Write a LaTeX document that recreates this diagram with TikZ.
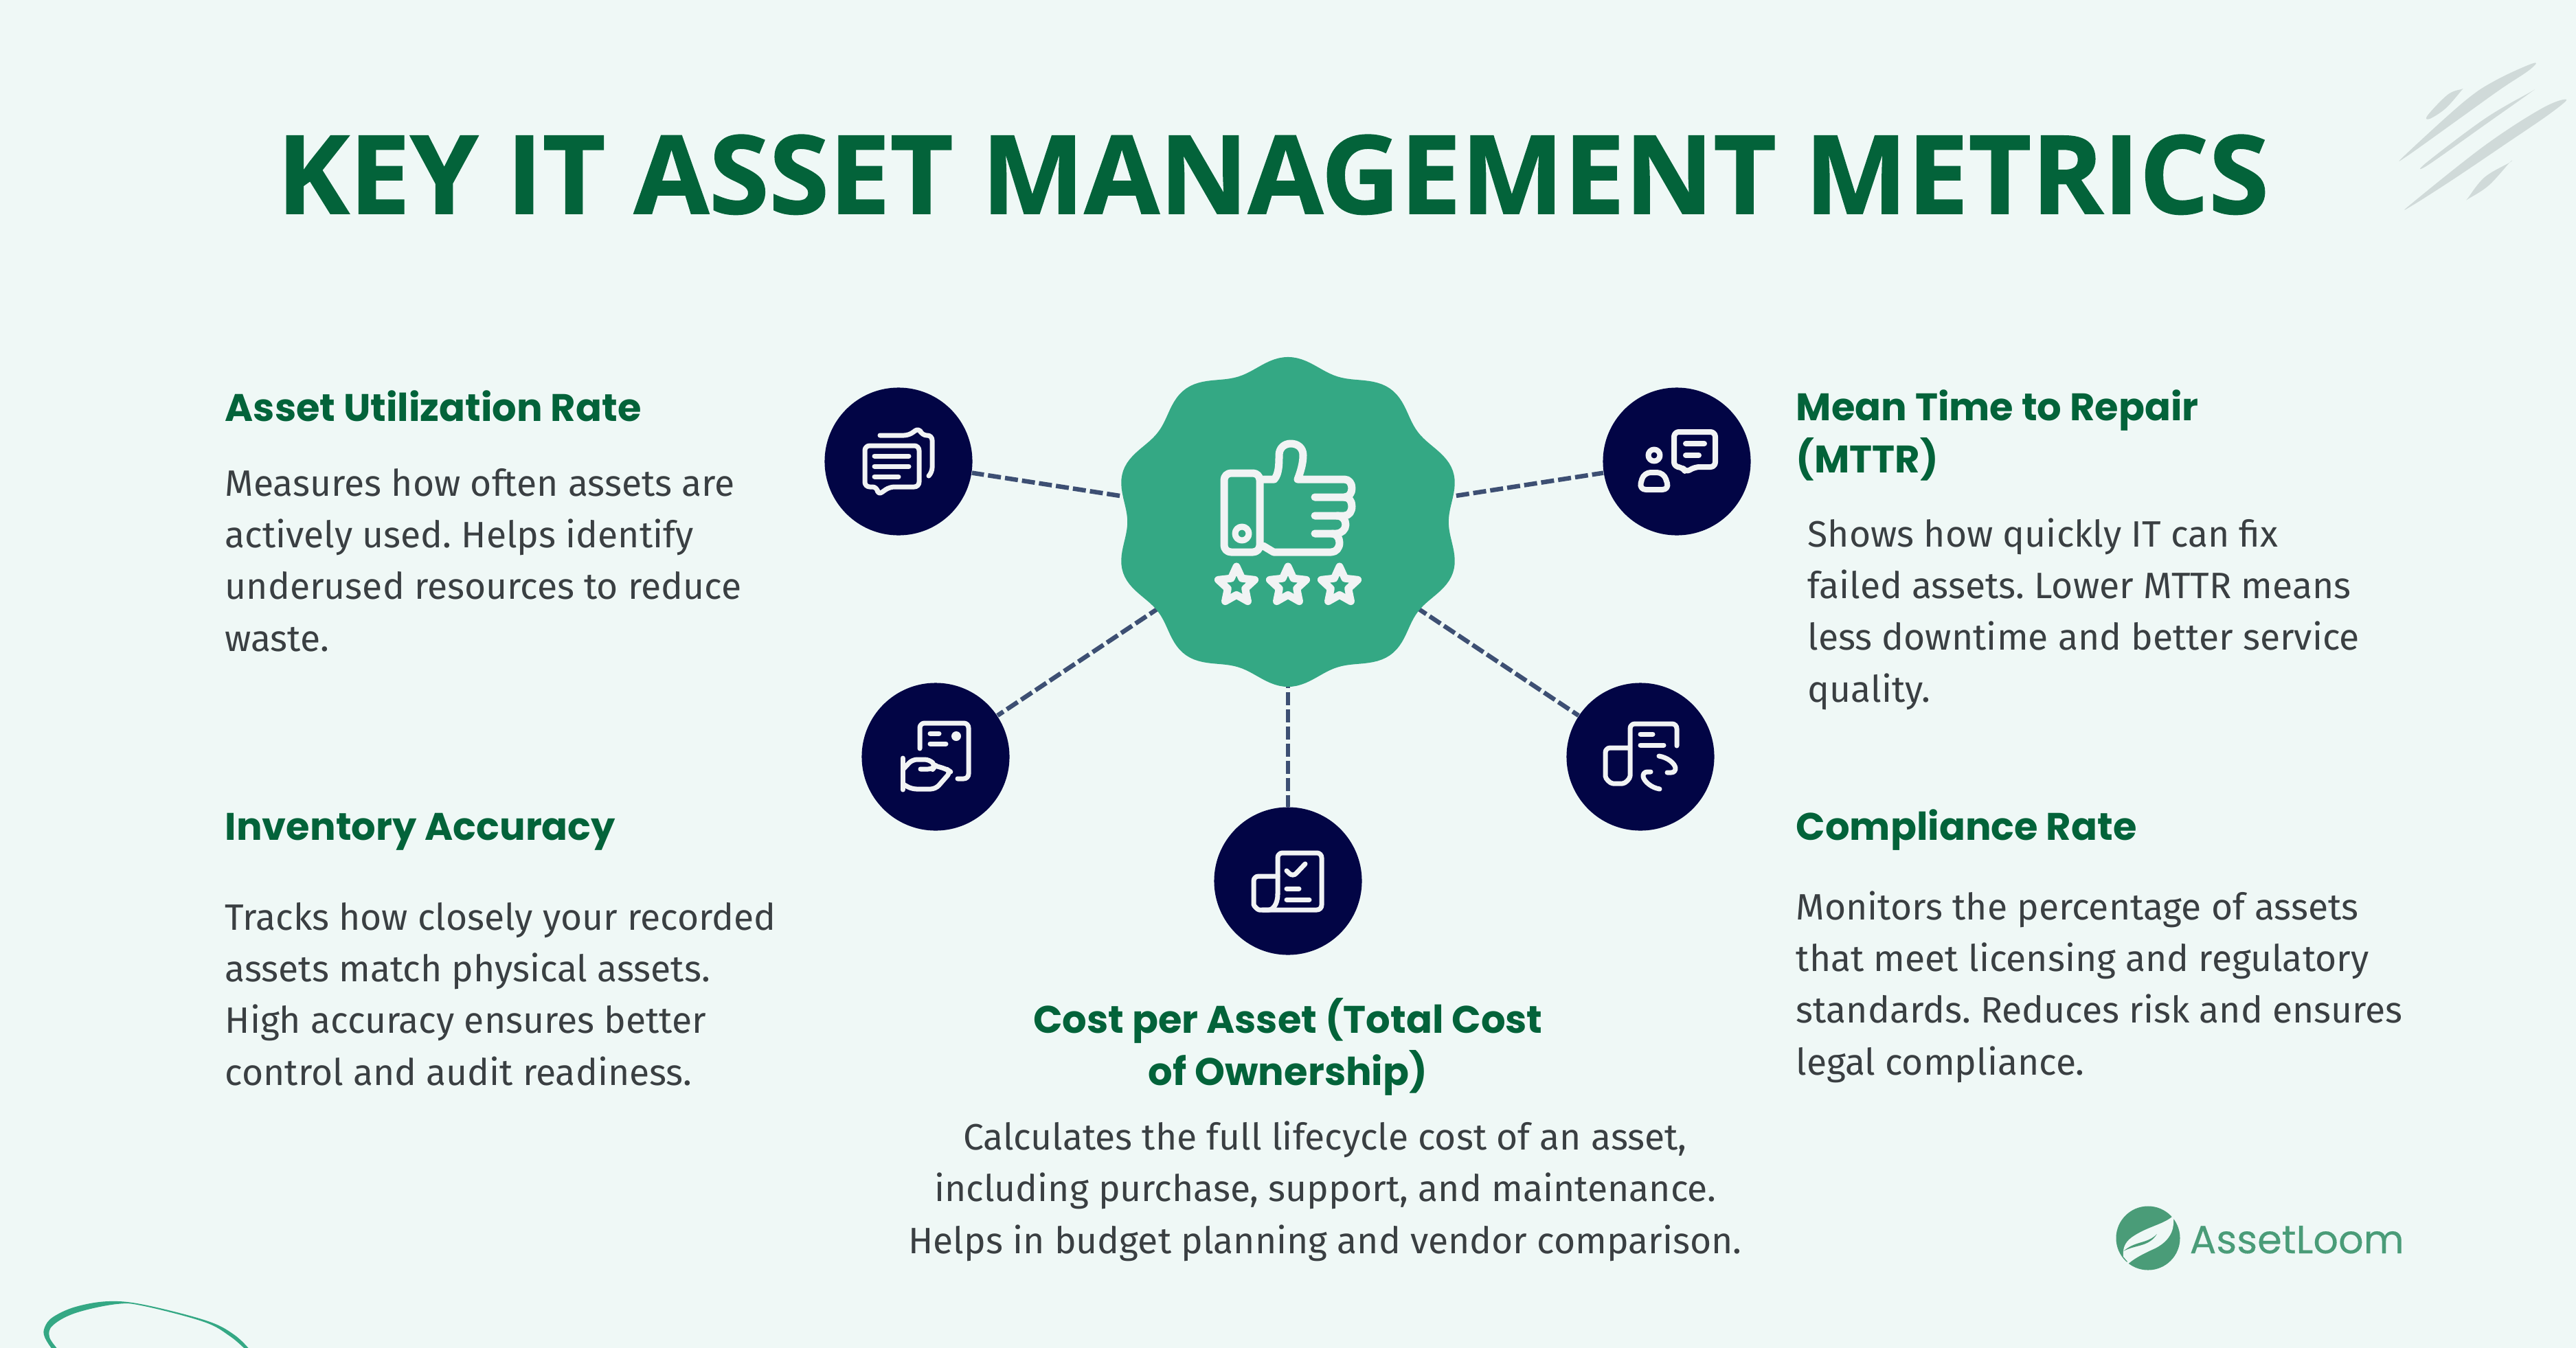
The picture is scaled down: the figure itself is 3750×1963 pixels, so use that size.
\documentclass[tikz,border=0pt]{standalone}
\usepackage{fontspec}
\usepackage{tikz}
\usetikzlibrary{shapes.geometric}
\newfontfamily\titlefam{Open Sans}[BoldFeatures = {FakeBold = 1}]
\newfontfamily\headfam{Poppins}
\newfontfamily\logofam{Poppins}[FakeBold = 0.25]
\newfontfamily\bodyfam{Fira Sans}
\definecolor{pagebg}{HTML}{EFF8F6}
\definecolor{deepgreen}{HTML}{03633A}
\definecolor{hubgreen}{HTML}{34A884}
\definecolor{navyfill}{HTML}{020545}
\definecolor{linkblue}{HTML}{3D4F73}
\definecolor{iconwhite}{HTML}{F1F3F4}
\definecolor{bodygray}{HTML}{3A3F42}
\definecolor{logogreen}{HTML}{4A9C78}
\definecolor{scribblegray}{HTML}{D0DAD9}
\tikzset{
	titletext/.style = {anchor = base, inner sep = 0, text = deepgreen, font = \titlefam\bfseries\fontsize{45.1}{54}\selectfont},
	headtext/.style = {anchor = base west, inner sep = 0, text = deepgreen, align = left, font = \headfam\bfseries\fontsize{15.9}{21.34}\selectfont},
	bodytext/.style = {anchor = base west, inner sep = 0, text = bodygray, align = left, font = \bodyfam\fontsize{15.2}{21.34}\selectfont},
	metric/.style = {circle, fill = navyfill, minimum size = 2.15cm, inner sep = 0},
	hubnode/.style = {circle, minimum size = 4.44cm, inner sep = 0},
	link/.style = {draw = linkblue, line width = 0.065cm, dash pattern = on 0.19cm off 0.06cm},
	iconline/.style = {draw = iconwhite, line width = 0.07cm, line cap = round, line join = round, rounded corners = 0.07cm},
	thumbline/.style = {draw = iconwhite, line width = 0.11cm, line cap = round, line join = round},
	ratestar/.style = {star, star points = 5, star point ratio = 2.1, minimum size = 0.56cm, inner sep = 0, draw = iconwhite, line width = 0.11cm, line join = round},
	scribble/.style = {fill = scribblegray}
}
\begin{document}
\frenchspacing
\begin{tikzpicture}[x = 0.01cm, y = -0.01cm]
	\useasboundingbox (0, 0) rectangle (3750, 1963);
	\clip (0, 0) rectangle (3750, 1963);
	\fill[pagebg] (0, 0) rectangle (3750, 1963);

	\node[titletext] (title) at (1853, 311) {KEY IT ASSET MANAGEMENT METRICS};

	% corner marks
	\fill[scribble] plot[smooth cycle, tension = 0.6] coordinates {(3688, 92) (3633, 117) (3587, 148) (3502, 225) (3503, 228) (3580, 173) (3640, 130) (3682, 102)};
	\fill[scribble] plot[smooth cycle, tension = 0.6] coordinates {(3583, 130) (3563, 138) (3534, 168) (3537, 173) (3560, 158) (3583, 132)};
	\fill[scribble] plot[smooth cycle, tension = 0.6] coordinates {(3682, 135) (3617, 173) (3532, 237) (3535, 240) (3617, 182) (3682, 136)};
	\fill[scribble] plot[smooth cycle, tension = 0.6] coordinates {(3736, 145) (3700, 158) (3617, 212) (3510, 297) (3512, 299) (3573, 260) (3647, 210) (3710, 167)};
	\fill[scribble] plot[smooth cycle, tension = 0.6] coordinates {(3653, 237) (3617, 258) (3593, 288) (3594, 289) (3623, 270) (3653, 237)};
	\fill[hubgreen] plot[smooth cycle, tension = 0.6] coordinates {(78, 1967) (65, 1947) (65, 1933) (77, 1918) (110, 1903) (158, 1895) (210, 1900) (300, 1923) (340, 1943) (365, 1967) (360, 1967) (335, 1946) (297, 1925) (210, 1902) (170, 1899) (110, 1912) (77, 1930) (72, 1947) (85, 1967)};

	% hub and metric circles
	\node[hubnode] (hub) at (1875, 760) {};
	\node[metric] (utilization) at (1308, 672) {};
	\node[metric] (inventory) at (1362, 1102) {};
	\node[metric] (cost) at (1875, 1283) {};
	\node[metric] (compliance) at (2388, 1102) {};
	\node[metric] (repair) at (2441, 672) {};

	\draw[link] (hub) -- (utilization);
	\draw[link] (hub) -- (inventory);
	\draw[link] (hub) -- (cost);
	\draw[link] (hub) -- (compliance);
	\draw[link] (hub) -- (repair);

	\fill[hubgreen] plot[domain = 0:360, samples = 241] ({1875 + 1.03 * (236 + 9 * cos(10 * \x)) * sin(\x)}, {760 + 0.98 * (236 + 9 * cos(10 * \x)) * cos(\x)}) -- cycle;

	% thumb icon
	\draw[thumbline, rounded corners = 0.1cm] (1782, 689) rectangle (1834, 804);
	\draw[thumbline, line width = 0.09cm] (1808, 777) circle [radius = 0.1cm];
	\draw[thumbline] (1839, 698) -- (1855, 698) .. controls (1862, 690) and (1862, 675) .. (1862, 663) .. controls (1862, 652) and (1870, 646) .. (1879, 646) .. controls (1889, 646) and (1897, 652) .. (1897, 663) .. controls (1897, 675) and (1893, 688) .. (1889, 698) -- (1957, 698) .. controls (1964, 698) and (1968, 704) .. (1968, 711) .. controls (1968, 718) and (1964, 724) .. (1957, 724) -- (1914, 724);
	\draw[thumbline] (1957, 724) .. controls (1964, 724) and (1968, 730) .. (1968, 737) .. controls (1968, 745) and (1964, 751) .. (1957, 751) -- (1914, 751);
	\draw[thumbline] (1946, 751) .. controls (1954, 751) and (1959, 757) .. (1959, 764) .. controls (1959, 771) and (1953, 777) .. (1945, 777) -- (1914, 777);
	\draw[thumbline] (1939, 777) .. controls (1945, 777) and (1950, 783) .. (1950, 790) .. controls (1950, 798) and (1945, 804) .. (1938, 804) -- (1854, 804) -- (1839, 795);
	\foreach \sx/\sn in {1800/a, 1875/b, 1950/c}
		\node[ratestar] (star\sn) at (\sx, 853) {};

	% utilization icon
	\draw[iconline] (1259, 649) -- (1338, 649) -- (1338, 709) -- (1295, 709) -- (1278, 721) -- (1277, 709) -- (1259, 709) -- cycle;
	\draw[iconline] (1273, 664) -- (1323, 664) (1273, 679) -- (1323, 679) (1273, 694) -- (1308, 694);
	\draw[iconline] (1281, 634) -- (1323, 634) -- (1338, 623) -- (1342, 634) -- (1357, 634) -- (1357, 688) -- (1352, 693);

	% inventory icon
	\draw[iconline] (1339, 1090) -- (1339, 1053) -- (1410, 1053) -- (1410, 1134) -- (1394, 1134);
	\fill[iconwhite] (1392, 1072) circle [radius = 0.07cm];
	\draw[iconline] (1354, 1068) -- (1367, 1068) (1354, 1083) -- (1377, 1083) (1314, 1104) -- (1314, 1150);
	\draw[iconline] (1315, 1120) -- (1328, 1106) -- (1353, 1106) -- (1362, 1115) -- (1358, 1120) -- (1340, 1120);
	\draw[iconline] (1361, 1115) -- (1378, 1120) -- (1384, 1124) -- (1362, 1149) -- (1327, 1149) -- (1315, 1142);

	% cost icon
	\draw[iconline] (1860, 1302) -- (1860, 1242) -- (1924, 1242) -- (1924, 1325) -- (1838, 1325);
	\draw[iconline] (1860, 1276) -- (1825, 1276) -- (1825, 1310) .. controls (1825, 1319) and (1831, 1325) .. (1840, 1325) .. controls (1852, 1325) and (1860, 1318) .. (1860, 1302);
	\draw[iconline] (1873, 1268) -- (1882, 1277) -- (1900, 1258);
	\draw[iconline] (1873, 1294) -- (1891, 1294) (1873, 1310) -- (1906, 1310);

	% compliance icon
	\draw[iconline] (2373, 1089) -- (2337, 1089) -- (2337, 1123) .. controls (2337, 1134) and (2344, 1141) .. (2355, 1141) .. controls (2366, 1141) and (2373, 1134) .. (2373, 1123) -- (2373, 1054) -- (2441, 1054) -- (2441, 1086);
	\draw[iconline] (2388, 1069) -- (2406, 1069) (2388, 1085) -- (2422, 1085);
	\draw[iconline] (2415, 1101) .. controls (2428, 1103) and (2438, 1112) .. (2440, 1125) -- (2427, 1125);
	\draw[iconline] (2403, 1124) -- (2391, 1124) .. controls (2393, 1137) and (2403, 1147) .. (2416, 1149);

	% repair icon
	\draw[iconline, line width = 0.08cm] (2408, 663) circle [radius = 0.085cm];
	\draw[iconline, line width = 0.08cm, rounded corners = 0.1cm] (2393, 688) -- (2422, 688) -- (2430, 713) -- (2386, 713) -- cycle;
	\draw[iconline, line width = 0.08cm] (2437, 629) -- (2497, 629) -- (2497, 680) -- (2467, 680) -- (2454, 688) -- (2449, 680) -- (2437, 680) -- cycle;
	\draw[iconline, line width = 0.08cm] (2454, 646) -- (2481, 646) (2454, 663) -- (2473, 663);

	% left column (a node's base is its last line)
	\node[headtext] (utilhead) at (327, 613) {Asset Utilization Rate};
	\node[bodytext] (utilbody) at (327, 948) {Measures how often assets are\\actively used. Helps identify\\underused resources to reduce\\waste.};
	\node[headtext] (invhead) at (327, 1223) {Inventory Accuracy};
	\node[bodytext] (invbody) at (327, 1580) {Tracks how closely your recorded\\assets match physical assets.\\High accuracy ensures better\\control and audit readiness.};

	% bottom centre
	\node[headtext, anchor = base, align = center] (costhead) at (1875, 1580) {Cost per Asset (Total Cost\\of Ownership)};
	\node[bodytext, anchor = base, align = center] (costbody) at (1929, 1825) {Calculates the full lifecycle cost of an asset,\\including purchase, support, and maintenance.\\Helps in budget planning and vendor comparison.};

	% right column
	\node[headtext] (mttrhead) at (2614, 688) {Mean Time to Repair\\(MTTR)};
	\node[bodytext] (mttrbody) at (2631, 1022) {Shows how quickly IT can fix\\failed assets. Lower MTTR means\\less downtime and better service\\quality.};
	\node[headtext] (comphead) at (2614, 1223) {Compliance Rate};
	\node[bodytext] (compbody) at (2614, 1565) {Monitors the percentage of assets\\that meet licensing and regulatory\\standards. Reduces risk and ensures\\legal compliance.};

	% logo
	\node[circle, fill = logogreen, minimum size = 0.93cm, inner sep = 0] (logo) at (3127, 1803) {};
	\fill[pagebg] (3166, 1768) .. controls (3153, 1783) and (3127, 1785) .. (3103, 1802) .. controls (3092, 1810) and (3090, 1820) .. (3091, 1830) -- (3097, 1837) -- (3088, 1852) .. controls (3097, 1837) and (3117, 1827) .. (3137, 1818) .. controls (3157, 1808) and (3165, 1793) .. (3164, 1777) -- cycle;
	\fill[logogreen] (3091, 1822) .. controls (3110, 1806) and (3125, 1812) .. (3140, 1797) .. controls (3128, 1816) and (3110, 1812) .. cycle;
	\node[anchor = base west, inner sep = 0, text = logogreen, font = \logofam\fontsize{16.3}{20}\selectfont] (logoname) at (3187, 1825) {AssetLoom};
\end{tikzpicture}
\end{document}
